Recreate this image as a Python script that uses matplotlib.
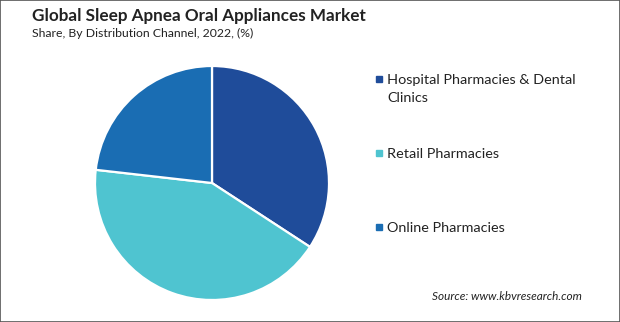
"""Sleep apnea oral appliances market share by distribution channel (pie)."""

import matplotlib

matplotlib.use("Agg")
import matplotlib.pyplot as plt
from matplotlib.patches import Rectangle

plt.rcParams["font.family"] = ["Lato", "DejaVu Sans"]

# data
channels = ["Hospital Pharmacies & Dental\nClinics", "Retail Pharmacies", "Online Pharmacies"]
shares = [34.2, 42.6, 23.2]
colors = ["#1F4C9A", "#4FC4D0", "#1A6DB3"]

W, H = 620, 322
fig = plt.figure(figsize=(W / 100, H / 100), dpi=100)

# pie axes: square in pixels, centred at (212, 183) with radius 117
cx, cy, r = 212, 183, 117
ax = fig.add_axes([(cx - r) / W, (H - cy - r) / H, 2 * r / W, 2 * r / H])
ax.pie(shares, colors=colors, startangle=90, counterclock=False,
       wedgeprops=dict(edgecolor="white", linewidth=1.6))
ax.set_xlim(-1, 1)
ax.set_ylim(-1, 1)
ax.set_aspect("equal")
ax.axis("off")

# titles
fig.text(32 / W, 1 - 16 / H, "Global Sleep Apnea Oral Appliances Market",
         fontsize=12.3, fontweight="bold", color="#222222", va="center")
fig.text(32 / W, 1 - 33 / H, "Share, By Distribution Channel, 2022, (%)",
         fontsize=8.8, color="#222222", va="center")

# legend (manual, to keep the uneven spacing of the original)
legend_y = [79, 153, 227]
for label, col, y in zip(channels, colors, legend_y):
    fig.patches.append(Rectangle((376 / W, 1 - (y + 3) / H), 6 / W, 6 / H,
                                 transform=fig.transFigure, color=col))
    fig.text(387 / W, 1 - (y - 5) / H, label, fontsize=10.4, color="#222222",
             va="top", linespacing=1.6)

fig.text(582 / W, 1 - 296 / H, "Source: www.kbvresearch.com",
         fontsize=8.5, style="italic", color="#222222", ha="right", va="center")

# outer frame
fig.patches.append(Rectangle((0, 0), 1, 1, transform=fig.transFigure,
                             fill=False, edgecolor="#555555", linewidth=1.2))

fig.savefig("out.png", dpi=100, facecolor="white")
